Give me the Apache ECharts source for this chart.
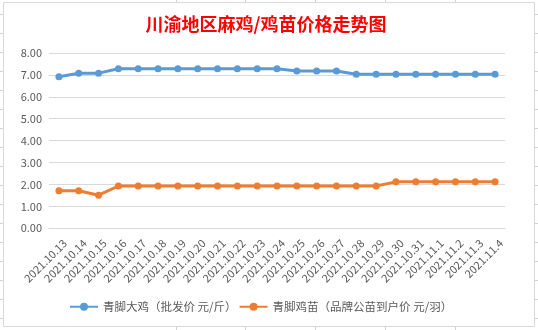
<!DOCTYPE html>
<html>
<head>
<meta charset="utf-8">
<script src="https://cdn.jsdelivr.net/npm/echarts@6/dist/echarts.min.js"></script>
<style>
html,body{margin:0;padding:0;background:#fff;}
#c{width:538px;height:330px;}
</style>
</head>
<body>
<div id="c"></div>
<script>
const titleText = '川渝地区麻鸡/鸡苗价格走势图';
const categories = ['2021.10.13','2021.10.14','2021.10.15','2021.10.16','2021.10.17','2021.10.18','2021.10.19','2021.10.20','2021.10.21','2021.10.22','2021.10.23','2021.10.24','2021.10.25','2021.10.26','2021.10.27','2021.10.28','2021.10.29','2021.10.30','2021.10.31','2021.11.1','2021.11.2','2021.11.3','2021.11.4'];
const seriesNames = ['青脚大鸡（批发价 元/斤）','青脚鸡苗（品牌公苗到户价 元/羽）'];
const bigChicken = [6.92,7.08,7.08,7.28,7.28,7.28,7.28,7.28,7.28,7.28,7.28,7.28,7.18,7.18,7.18,7.03,7.03,7.03,7.03,7.03,7.03,7.03,7.03];
const chick = [1.71,1.71,1.51,1.93,1.93,1.93,1.93,1.93,1.93,1.93,1.93,1.93,1.93,1.93,1.93,1.93,1.93,2.12,2.12,2.12,2.12,2.12,2.12];
const yTicks = {min:0, max:8, interval:1};

const FONT = '"Noto Sans CJK SC", "Noto Sans", sans-serif';
const GRID = '#d9d9d9';
const SHEET = '#cfd0dc';
const LABEL = '#595959';

// spreadsheet decorations around the chart frame
const deco = [];
for (let y = 14; y < 330; y += 19) {
  deco.push({type:'line', shape:{x1:0,y1:y+0.5,x2:3,y2:y+0.5}, style:{stroke:SHEET,lineWidth:1}});
  deco.push({type:'line', shape:{x1:535,y1:y+0.5,x2:538,y2:y+0.5}, style:{stroke:SHEET,lineWidth:1}});
}
[176,245,315,385,455].forEach(x => {
  deco.push({type:'line', shape:{x1:x+0.5,y1:0,x2:x+0.5,y2:2}, style:{stroke:SHEET,lineWidth:1}});
  deco.push({type:'line', shape:{x1:x+0.5,y1:327,x2:x+0.5,y2:330}, style:{stroke:SHEET,lineWidth:1}});
});
deco.push({type:'rect', shape:{x:3.5,y:2.5,width:531,height:324}, style:{fill:'none',stroke:GRID,lineWidth:1}, z:-1});

const chart = echarts.init(document.getElementById('c'), null, {renderer:'canvas'});
chart.setOption({
  animation:false,
  backgroundColor:'#fff',
  title:{
    text:titleText,
    left:261, top:10, textAlign:'center',
    textStyle:{color:'#ff0000', fontSize:18, fontWeight:'bold', fontFamily:FONT}
  },
  graphic: deco,
  legend:{
    data:seriesNames,
    left:69, top:301, padding:0,
    itemWidth:28, itemHeight:10, itemGap:2,
    textStyle:{color:LABEL, fontSize:11.5, fontFamily:FONT}
  },
  grid:{left:49, right:33, top:53, height:175.3, containLabel:false},
  xAxis:{
    type:'category', data:categories, boundaryGap:true,
    axisTick:{show:false},
    axisLine:{show:true, lineStyle:{color:GRID}},
    axisLabel:{
      interval:0, rotate:45, margin:7, fontSize:11, color:LABEL, fontFamily:FONT,
      verticalAlign:'top', padding:[3,0,0,0]
    }
  },
  yAxis:{
    type:'value', min:yTicks.min, max:yTicks.max, interval:yTicks.interval,
    axisLine:{show:false}, axisTick:{show:false},
    splitLine:{lineStyle:{color:GRID}},
    axisLabel:{margin:7, fontSize:11, color:LABEL, fontFamily:FONT, formatter:v=>v.toFixed(2)}
  },
  series:[
    {name:seriesNames[0], type:'line', data:bigChicken, symbol:'circle', symbolSize:7,
     itemStyle:{color:'#5b9bd5'}, lineStyle:{width:3, color:'#5b9bd5'}},
    {name:seriesNames[1], type:'line', data:chick, symbol:'circle', symbolSize:7,
     itemStyle:{color:'#ed7d31'}, lineStyle:{width:3, color:'#ed7d31'}}
  ]
});
</script>
</body>
</html>
